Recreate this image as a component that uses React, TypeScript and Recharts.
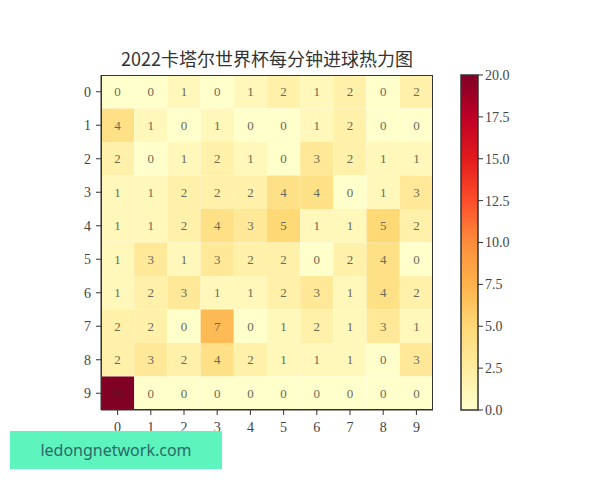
import { Bar, BarChart, Scatter, ScatterChart, XAxis, YAxis } from 'recharts';

const title = '2022卡塔尔世界杯每分钟进球热力图';
const rowLabels = [0, 1, 2, 3, 4, 5, 6, 7, 8, 9];
const colLabels = [0, 1, 2, 3, 4, 5, 6, 7, 8, 9];
// goals per minute, row = tens digit, column = units digit
const goals = [
    [0, 0, 1, 0, 1, 2, 1, 2, 0, 2],
    [4, 1, 0, 1, 0, 0, 1, 2, 0, 0],
    [2, 0, 1, 2, 1, 0, 3, 2, 1, 1],
    [1, 1, 2, 2, 2, 4, 4, 0, 1, 3],
    [1, 1, 2, 4, 3, 5, 1, 1, 5, 2],
    [1, 3, 1, 3, 2, 2, 0, 2, 4, 0],
    [1, 2, 3, 1, 1, 2, 3, 1, 4, 2],
    [2, 2, 0, 7, 0, 1, 2, 1, 3, 1],
    [2, 3, 2, 4, 2, 1, 1, 1, 0, 3],
    [20, 0, 0, 0, 0, 0, 0, 0, 0, 0],
];
const colorbarTicks = [0, 2.5, 5, 7.5, 10, 12.5, 15, 17.5, 20];
const vmax = 20;

// YlOrRd
const stops = ['#ffffcc', '#ffeda0', '#fed976', '#feb24c', '#fd8d3c', '#fc4e2a', '#e31a1c', '#bd0026', '#800026'];

function hex(c: string) {
    return [1, 3, 5].map((i) => parseInt(c.slice(i, i + 2), 16));
}
function colorFor(v: number) {
    const t = Math.max(0, Math.min(1, v / vmax)) * (stops.length - 1);
    const i = Math.min(stops.length - 2, Math.floor(t));
    const f = t - i;
    const a = hex(stops[i]);
    const b = hex(stops[i + 1]);
    const m = a.map((x, k) => Math.round(x + (b[k] - x) * f));
    return `rgb(${m[0]},${m[1]},${m[2]})`;
}

const cells = rowLabels.flatMap((r) =>
    colLabels.map((c) => ({ x: c, y: r, value: goals[r][c] })),
);

const W = 450;
const H = 440;
const M = { top: 75, right: 17, bottom: 0, left: 0 };
const Y_W = 101;
const X_H = 30;
const PLOT_W = W - M.left - M.right - Y_W;
const PLOT_H = H - M.top - M.bottom - X_H;
const cellW = PLOT_W / colLabels.length;
const cellH = PLOT_H / rowLabels.length;

const serif = '"Liberation Serif", "DejaVu Serif", serif';

function HeatCell(props: any) {
    const { cx, cy, payload } = props;
    return (
        <g>
            <rect
                x={cx - cellW / 2}
                y={cy - cellH / 2}
                width={cellW}
                height={cellH}
                fill={colorFor(payload.value)}
            />
            <text
                x={cx}
                y={cy}
                textAnchor="middle"
                dominantBaseline="central"
                fontSize={13}
                fontFamily={serif}
                fill={payload.value > 10 ? '#5a1a22' : '#6b6a55'}
            >
                {payload.value}
            </text>
        </g>
    );
}

const tickStyle = { fill: '#444', fontSize: 14, fontFamily: serif };

export default function App() {
    return (
        <div style={{ position: 'absolute', left: 0, top: 0, width: 600, height: 480, background: '#fff' }}>
            <div
                style={{
                    position: 'absolute',
                    left: 101,
                    width: PLOT_W,
                    top: 48,
                    textAlign: 'center',
                    fontFamily: '"Noto Sans CJK SC", sans-serif',
                    fontSize: 18,
                    color: '#333',
                    lineHeight: '20px',
                }}
            >
                {title}
            </div>
            <div style={{ position: 'absolute', left: 0, top: 0 }}>
                <ScatterChart width={W} height={H} margin={M}>
                    <XAxis
                        type="number"
                        dataKey="x"
                        domain={[-0.5, 9.5]}
                        allowDataOverflow
                        ticks={colLabels}
                        height={X_H}
                        tick={{ ...tickStyle, dy: 5 }}
                        tickSize={5}
                        stroke="#333"
                        interval={0}
                    />
                    <YAxis
                        type="number"
                        dataKey="y"
                        domain={[-0.5, 9.5]}
                        allowDataOverflow
                        ticks={rowLabels}
                        reversed
                        width={Y_W}
                        tick={{ ...tickStyle, dx: -3 }}
                        tickSize={5}
                        stroke="#333"
                        interval={0}
                    />
                    <Scatter data={cells} shape={<HeatCell />} isAnimationActive={false} />
                </ScatterChart>
            </div>
            <div
                style={{
                    position: 'absolute',
                    left: M.left + Y_W,
                    top: M.top,
                    width: PLOT_W,
                    height: PLOT_H,
                    boxSizing: 'border-box',
                    border: '1.5px solid #333',
                    pointerEvents: 'none',
                }}
            />
            <div style={{ position: 'absolute', left: 440, top: 0 }}>
                <BarChart
                    width={100}
                    height={H}
                    data={[{ name: 'cb', v: vmax }]}
                    margin={{ top: 75, right: 0, bottom: 30, left: 21 }}
                    barCategoryGap={0}
                >
                    <defs>
                        <linearGradient id="ylorrd" x1="0" y1="1" x2="0" y2="0">
                            {stops.map((s, i) => (
                                <stop key={s} offset={i / (stops.length - 1)} stopColor={s} />
                            ))}
                        </linearGradient>
                    </defs>
                    <XAxis dataKey="name" hide />
                    <YAxis
                        orientation="right"
                        domain={[0, vmax]}
                        ticks={colorbarTicks}
                        tickFormatter={(v: number) => v.toFixed(1)}
                        width={62}
                        tick={tickStyle}
                        tickSize={5}
                        tickLine={{ stroke: '#333' }}
                        axisLine={false}
                        interval={0}
                    />
                    <Bar dataKey="v" fill="url(#ylorrd)" stroke="#333" strokeWidth={1.5} isAnimationActive={false} />
                </BarChart>
            </div>
            <div
                style={{
                    position: 'absolute',
                    left: 10,
                    top: 431,
                    width: 212,
                    height: 38,
                    background: '#5ef4be',
                    color: '#2b6a68',
                    fontFamily: '"Noto Sans", sans-serif',
                    fontSize: 16,
                    lineHeight: '38px',
                    textAlign: 'center',
                }}
            >
                ledongnetwork.com
            </div>
        </div>
    );
}
